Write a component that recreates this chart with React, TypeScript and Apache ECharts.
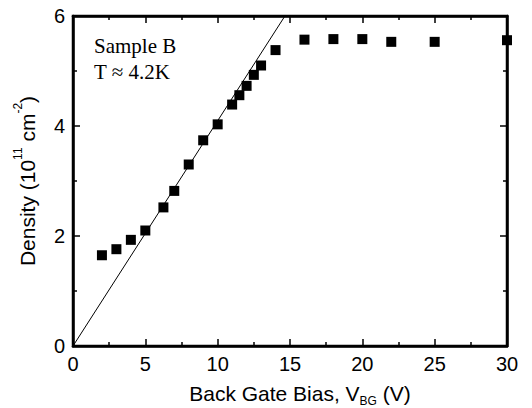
import React, { useEffect, useRef } from "react";
import * as echarts from "echarts";

const biasV = [2, 3, 4, 5, 6.25, 7, 8, 9, 10, 11, 11.5, 12, 12.5, 13, 14, 16, 18, 20, 22, 25, 30];
const density = [1.65, 1.76, 1.93, 2.1, 2.52, 2.82, 3.3, 3.74, 4.03, 4.39, 4.56, 4.73, 4.93, 5.1, 5.38, 5.57, 5.58, 5.58, 5.53, 5.53, 5.56];
const fitX = [0, 14.65];
const fitY = [0, 6];
const xTicks = { min: 0, max: 30, interval: 5 };
const yTicks = { min: 0, max: 6, interval: 2 };

const SANS = "'Liberation Sans', Arial, Helvetica, sans-serif";
const SERIF = "'Liberation Serif', 'Times New Roman', serif";
const INK = "#000000";

export default function App() {
  const ref = useRef<HTMLDivElement>(null);
  useEffect(() => {
    if (!ref.current) return;
    const chart = echarts.init(ref.current, null, { renderer: "svg" });
    const axisCommon = {
      type: "value" as const,
      gridIndex: 0,
      axisLine: { show: true, onZero: false, lineStyle: { color: INK, width: 2.5 } },
      axisTick: { show: true, inside: true, length: 7, lineStyle: { color: INK, width: 1.5 } },
      minorTick: { show: true, splitNumber: 2, length: 4, lineStyle: { color: INK, width: 1.5 } },
      splitLine: { show: false },
    };
    chart.setOption({
      animation: false,
      backgroundColor: "#ffffff",
      grid: {
        left: 73, right: 25, top: 16, bottom: 62, outerBoundsMode: "none",
        show: true, borderColor: INK, borderWidth: 2.5, backgroundColor: "rgba(255,255,255,0)",
      },
      xAxis: [
        {
          ...axisCommon,
          ...xTicks,
          position: "bottom",
          axisLabel: { color: "#000", fontSize: 20, fontFamily: SANS, margin: 8 },
          name: "Back Gate Bias, V{sub|BG} (V)",
          nameLocation: "middle",
          nameGap: 33,
          nameTextStyle: {
            color: "#000",
            fontSize: 21,
            fontFamily: SANS,
            padding: [0, 0, 0, 20],
            rich: {
              sub: { fontSize: 12, fontFamily: SANS, color: "#000", verticalAlign: "bottom", lineHeight: 28 },
            },
          },
        },
        {
          ...axisCommon,
          ...xTicks,
          position: "top",
          axisLabel: { show: false },
        },
      ],
      yAxis: [
        {
          ...axisCommon,
          ...yTicks,
          position: "left",
          axisLabel: { color: "#000", fontSize: 20, fontFamily: SANS, margin: 8 },
          name: "Density (10{sup|11} cm{sup|-2})",
          nameLocation: "middle",
          nameGap: 31,
          nameTextStyle: {
            color: "#000",
            fontSize: 21,
            fontFamily: SANS,
            rich: {
              sup: { fontSize: 12, fontFamily: SANS, color: "#000", verticalAlign: "top", lineHeight: 30 },
            },
          },
        },
        {
          ...axisCommon,
          ...yTicks,
          position: "right",
          axisLabel: { show: false },
        },
      ],
      series: [
        {
          type: "line",
          xAxisIndex: 1,
          yAxisIndex: 1,
          data: fitX.map((x, i) => [x, fitY[i]]),
          showSymbol: false,
          symbol: "none",
          lineStyle: { color: "#000", width: 1 },
          clip: true,
          z: 2,
        },
        {
          type: "scatter",
          xAxisIndex: 0,
          yAxisIndex: 0,
          data: biasV.map((x, i) => [x, density[i]]),
          symbol: "rect",
          symbolSize: 10,
          itemStyle: { color: "#000", opacity: 1 },
          clip: false,
          z: 3,
        },
      ],
      graphic: [
        {
          type: "text",
          left: 94,
          top: 35,
          style: { text: "Sample B", font: `21px ${SERIF}`, fill: "#000" },
        },
        {
          type: "text",
          left: 94,
          top: 61,
          style: { text: "T ≈ 4.2K", font: `21px ${SERIF}`, fill: "#000" },
        },
      ],
    });
    return () => chart.dispose();
  }, []);
  return (
    <div
      ref={ref}
      style={{ position: "fixed", left: 0, top: 0, width: 532, height: 408 }}
    />
  );
}
